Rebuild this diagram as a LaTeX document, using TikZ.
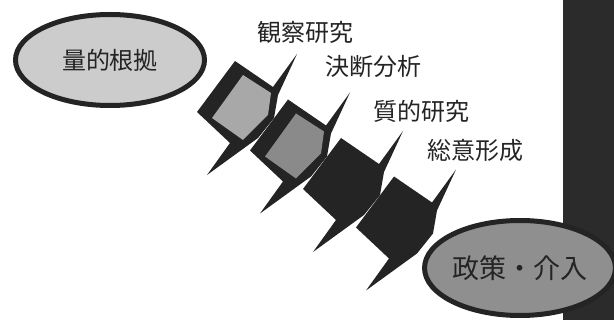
\documentclass[tikz,border=0pt]{standalone}
\usepackage{fontspec}
\setmainfont{Noto Sans CJK JP}
\usetikzlibrary{shapes.geometric}
\definecolor{ink}{gray}{0.14}
\definecolor{band}{gray}{0.17}
\definecolor{pale}{gray}{0.80}
\definecolor{mid}{gray}{0.56}
\definecolor{panelA}{gray}{0.66}
\definecolor{panelB}{gray}{0.54}
\begin{document}
\begin{tikzpicture}[x=1pt, y=-1pt,
    lbl/.style={text=ink, font=\fontsize{24}{24}\selectfont, inner sep=0pt},
    oval/.style={ellipse, draw=ink, line width=5pt, inner sep=0pt}]
\useasboundingbox (0,0) rectangle (614,320);
\fill[band] (563,0) rectangle (614,320);
\node[oval, fill=pale, lbl, minimum width=189pt, minimum height=91pt] (ryo) at (110,60) {量的根拠};
\foreach \k/\c in {0/panelA,1/panelB,2/ink,3/ink}{
  \fill[ink, shift={(53*\k,38.5*\k)}] (197,112) -- (235,61) -- (273,87) -- (297,54) -- (278,95) -- (274,118) -- (258,138) -- (207,175) -- (230,143) -- cycle;
  \fill[\c, shift={(53*\k,38.5*\k)}] (212,118) -- (243,75) -- (271,93) -- (268,115) -- (243,140) -- cycle;
}
\node[lbl] (kansatsu) at (305,32) {観察研究};
\node[lbl] (kettei) at (373,66) {決断分析};
\node[lbl] (shitsu) at (421,111) {質的研究};
\node[lbl] (goui) at (475,150) {総意形成};
\node[oval, fill=mid, lbl, font=\fontsize{27}{27}\selectfont, minimum width=180pt, minimum height=95pt] (seisaku) at (520,268) {政策・介入};
\end{tikzpicture}
\end{document}
